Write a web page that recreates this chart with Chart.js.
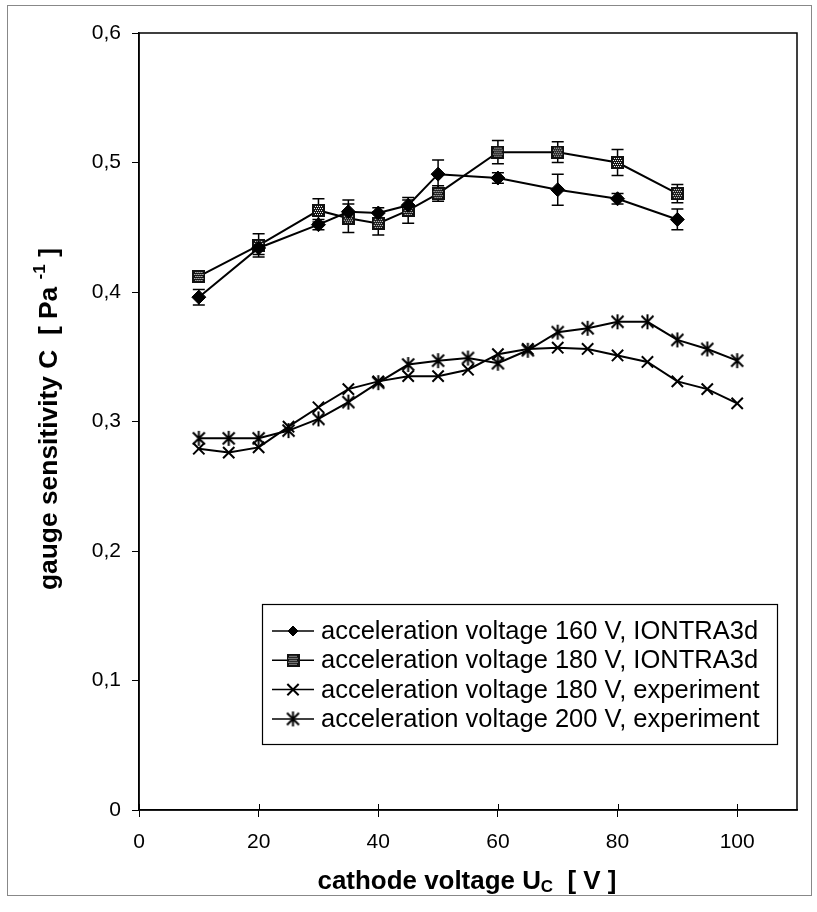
<!DOCTYPE html>
<html>
<head>
<meta charset="utf-8">
<script src="https://cdn.jsdelivr.net/npm/chart.js@4.4.1/dist/chart.umd.min.js"></script>
<style>
  html, body { margin: 0; padding: 0; background: #fff; }
</style>
</head>
<body>
<canvas id="myChart" width="817" height="912"></canvas>
<script>
// data
const xIontra = [10, 20, 30, 35, 40, 45, 50, 60, 70, 80, 90];
const acc160 = [0.396, 0.434, 0.452, 0.462, 0.461, 0.467, 0.491, 0.488, 0.479, 0.472, 0.456];
const acc160Err = [0.006, 0.005, 0.004, 0.009, 0.004, 0.004, 0.011, 0.004, 0.012, 0.004, 0.008];
const acc180 = [0.412, 0.436, 0.463, 0.457, 0.453, 0.463, 0.476, 0.508, 0.508, 0.500, 0.476];
const acc180Err = [0, 0.009, 0.009, 0.011, 0.009, 0.010, 0.006, 0.009, 0.008, 0.010, 0.007];
const xExp = [10, 15, 20, 25, 30, 35, 40, 45, 50, 55, 60, 65, 70, 75, 80, 85, 90, 95, 100];
const exp180 = [0.279, 0.276, 0.280, 0.296, 0.311, 0.325, 0.331, 0.335, 0.335, 0.340, 0.352, 0.356, 0.357, 0.356, 0.351, 0.346, 0.331, 0.325, 0.314];
const exp200 = [0.287, 0.287, 0.287, 0.293, 0.302, 0.315, 0.330, 0.344, 0.347, 0.349, 0.345, 0.355, 0.369, 0.372, 0.377, 0.377, 0.363, 0.356, 0.347];
const seriesLabels = [
  'acceleration voltage 160 V, IONTRA3d',
  'acceleration voltage 180 V, IONTRA3d',
  'acceleration voltage 180 V, experiment',
  'acceleration voltage 200 V, experiment'
];
const yTickLabels = ['0', '0,1', '0,2', '0,3', '0,4', '0,5', '0,6'];

const FONT = '"Liberation Sans", Arial, sans-serif';

function pts(xs, ys) {
  return xs.map((x, i) => ({ x: x, y: ys[i] }));
}

// square marker with a dotted fill
function makeSquare() {
  const c = document.createElement('canvas');
  c.width = 13; c.height = 13;
  const g = c.getContext('2d');
  g.fillStyle = '#111';
  g.fillRect(0, 0, 13, 13);
  g.fillStyle = '#fff';
  for (let y = 2; y < 11; y += 2) {
    for (let x = (y % 4 === 0 ? 2 : 3); x < 11; x += 2) {
      g.fillRect(x, y, 1, 1);
    }
  }
  return c;
}

// asterisk marker: X plus a vertical bar
function makeAsterisk() {
  const c = document.createElement('canvas');
  c.width = 17; c.height = 17;
  const g = c.getContext('2d');
  g.strokeStyle = '#000';
  g.lineWidth = 2;
  g.beginPath();
  g.moveTo(8.5, 1); g.lineTo(8.5, 16);
  g.moveTo(2.5, 2.5); g.lineTo(14.5, 14.5);
  g.moveTo(14.5, 2.5); g.lineTo(2.5, 14.5);
  g.stroke();
  return c;
}

const squareMark = makeSquare();
const asteriskMark = makeAsterisk();

const errors = [acc160Err, acc180Err];

const extras = {
  id: 'extras',
  beforeDatasetsDraw(chart) {
    const ctx = chart.ctx;
    const xs = chart.scales.x, ys = chart.scales.y;
    ctx.save();
    ctx.strokeStyle = '#000';
    ctx.lineWidth = 1.5;
    errors.forEach((err, di) => {
      const vals = di === 0 ? acc160 : acc180;
      xIontra.forEach((x, i) => {
        if (!err[i]) return;
        const px = xs.getPixelForValue(x);
        const top = ys.getPixelForValue(vals[i] + err[i]);
        const bot = ys.getPixelForValue(vals[i] - err[i]);
        ctx.beginPath();
        ctx.moveTo(px, top); ctx.lineTo(px, bot);
        ctx.moveTo(px - 6, top); ctx.lineTo(px + 6, top);
        ctx.moveTo(px - 6, bot); ctx.lineTo(px + 6, bot);
        ctx.stroke();
      });
    });
    ctx.restore();
  },
  afterDraw(chart) {
    const ctx = chart.ctx;
    const a = chart.chartArea;
    ctx.save();
    // plot frame
    ctx.strokeStyle = '#000';
    ctx.lineWidth = 1.5;
    ctx.strokeRect(a.left, a.top, a.right - a.left, a.bottom - a.top);
    // x ticks poke up into the plot a little too
    ctx.lineWidth = 1;
    chart.scales.x.ticks.forEach(t => {
      const px = Math.round(chart.scales.x.getPixelForValue(t.value)) + 0.5;
      ctx.beginPath();
      ctx.moveTo(px, a.bottom); ctx.lineTo(px, a.bottom - 6);
      ctx.stroke();
    });
    // outer frame
    ctx.strokeStyle = '#888';
    ctx.lineWidth = 1;
    ctx.strokeRect(7.5, 5.5, 804, 890);

    // legend
    const lx = 262, ly = 604, lw = 515, lh = 140;
    ctx.fillStyle = '#fff';
    ctx.fillRect(lx, ly, lw, lh);
    ctx.strokeStyle = '#000';
    ctx.lineWidth = 1.2;
    ctx.strokeRect(lx + 0.5, ly + 0.5, lw, lh);
    ctx.font = '25.5px ' + FONT;
    ctx.textBaseline = 'middle';
    chart.data.datasets.forEach((ds, i) => {
      const y = ly + 27 + i * 29.3;
      ctx.strokeStyle = '#000';
      ctx.lineWidth = 1.5;
      ctx.beginPath();
      ctx.moveTo(lx + 10, y); ctx.lineTo(lx + 52, y);
      ctx.stroke();
      ctx.fillStyle = '#000';
      ctx.lineWidth = ds.pointBorderWidth || 1;
      const r = ds.pointStyle === 'rectRot' ? 5 : ds.pointRadius;
      Chart.helpers.drawPoint(ctx, { pointStyle: ds.pointStyle, radius: r, rotation: 0, borderWidth: ctx.lineWidth }, lx + 31, y);
      ctx.fillStyle = '#000';
      ctx.fillText(ds.label, lx + 59, y + 1);
    });

    // axis titles with sub/superscript, squeezed to the reference length
    drawRich(ctx, [
      { t: 'cathode voltage U', s: 26 },
      { t: 'C', s: 17, dy: 5 },
      { t: '  [ V ]', s: 26 }
    ], 467, 882, 0, 299);
    drawRich(ctx, [
      { t: 'gauge sensitivity C  [ Pa ', s: 26 },
      { t: '-1', s: 17, dy: -10 },
      { t: ' ]', s: 26 }
    ], 50, 419, -Math.PI / 2, 342);
    ctx.restore();
  }
};

function drawRich(ctx, parts, cx, cy, rot, len) {
  ctx.save();
  ctx.translate(cx, cy);
  ctx.rotate(rot);
  ctx.fillStyle = '#000';
  ctx.textBaseline = 'middle';
  let total = 0;
  parts.forEach(p => {
    ctx.font = 'bold ' + p.s + 'px ' + FONT;
    p.w = ctx.measureText(p.t).width;
    total += p.w;
  });
  ctx.scale(len / total, 1);
  let x = -total / 2;
  parts.forEach(p => {
    ctx.font = 'bold ' + p.s + 'px ' + FONT;
    ctx.fillText(p.t, x, p.dy || 0);
    x += p.w;
  });
  ctx.restore();
}

const ctx = document.getElementById('myChart').getContext('2d');
const myChart = new Chart(ctx, {
  type: 'line',
  data: {
    datasets: [{
        label: seriesLabels[0],
        data: pts(xIontra, acc160),
        borderColor: '#000',
        backgroundColor: '#000',
        borderWidth: 2,
        pointStyle: 'rectRot',
        pointRadius: 7,
        pointBorderWidth: 1,
      },
      {
        label: seriesLabels[1],
        data: pts(xIontra, acc180),
        borderColor: '#000',
        backgroundColor: '#000',
        borderWidth: 2,
        pointStyle: squareMark,
        pointRadius: 6,
      },
      {
        label: seriesLabels[2],
        data: pts(xExp, exp180),
        borderColor: '#000',
        backgroundColor: '#000',
        borderWidth: 2,
        pointStyle: 'crossRot',
        pointRadius: 8,
        pointBorderWidth: 2,
      },
      {
        label: seriesLabels[3],
        data: pts(xExp, exp200),
        borderColor: '#000',
        backgroundColor: '#000',
        borderWidth: 2,
        pointStyle: asteriskMark,
        pointRadius: 8,
      },
    ],
  },
  options: {
    responsive: false,
    animation: false,
    devicePixelRatio: 1,
    layout: { padding: { top: 33, right: 20, left: 0, bottom: 0 } },
    plugins: {
      legend: { display: false },
      tooltip: { enabled: false },
    },
    scales: {
      x: {
        type: 'linear',
        min: 0,
        max: 110,
        afterFit: s => { s.height = 102; },
        border: { color: '#000', width: 1.5 },
        grid: { drawOnChartArea: false, color: '#000', tickLength: 7, lineWidth: 1 },
        ticks: {
          stepSize: 20,
          includeBounds: false,
          color: '#000',
          padding: 13,
          font: { family: FONT, size: 21 },
          maxRotation: 0,
        },
      },
      y: {
        min: 0,
        max: 0.6,
        afterFit: s => { s.width = 139; },
        border: { color: '#000', width: 1.5 },
        grid: { drawOnChartArea: false, color: '#000', tickLength: 7, lineWidth: 1 },
        ticks: {
          stepSize: 0.1,
          color: '#000',
          padding: 11,
          font: { family: FONT, size: 21 },
          callback: function (value, index) {
            return yTickLabels[index];
          },
        },
      },
    },
  },
  plugins: [extras],
});
</script>
</body>
</html>
